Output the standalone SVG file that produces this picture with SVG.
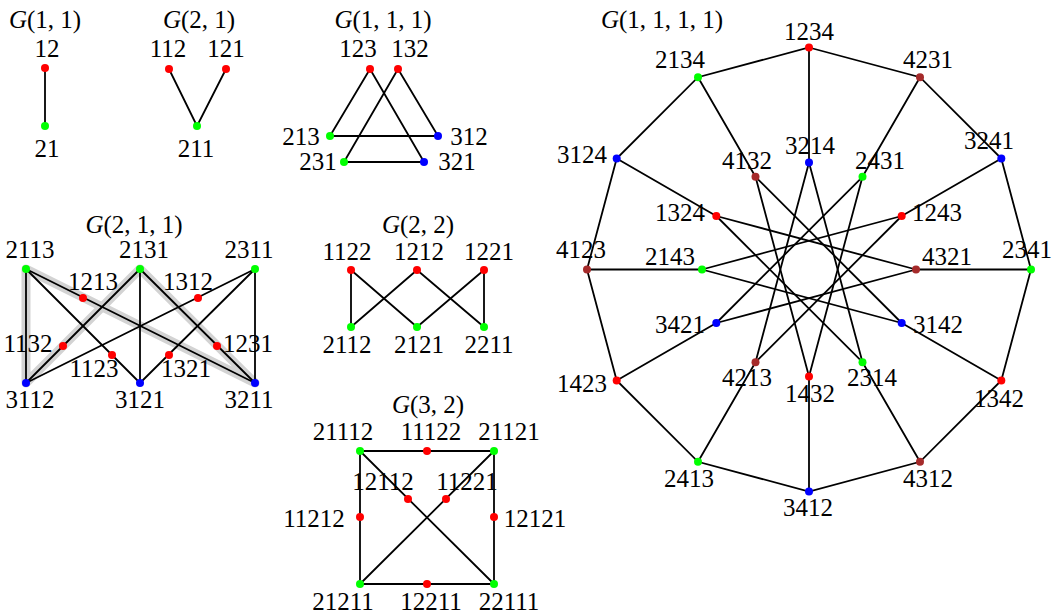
<svg xmlns="http://www.w3.org/2000/svg" width="1059" height="615" viewBox="0 0 1059 615">
<style>
.e{stroke:#000;stroke-width:1.8;fill:none;stroke-linecap:round}
.hl{stroke:#d3d3d3;stroke-width:9;fill:none;stroke-linejoin:round;stroke-linecap:round}
.r{fill:#ff0000}.g{fill:#00ff00}.b{fill:#0000ff}.k{fill:#a52a2a}
text{font-family:"Liberation Serif","DejaVu Serif",serif;font-size:25px;text-anchor:middle;fill:#000}
.it{font-style:italic}
</style>
<rect width="1059" height="615" fill="#fff"/>
<!-- titles -->
<g id="titles">
<text x="45" y="28"><tspan class="it">G</tspan>(1, 1)</text>
<text x="199" y="28"><tspan class="it">G</tspan>(2, 1)</text>
<text x="383" y="28"><tspan class="it">G</tspan>(1, 1, 1)</text>
<text x="134" y="233"><tspan class="it">G</tspan>(2, 1, 1)</text>
<text x="418" y="233"><tspan class="it">G</tspan>(2, 2)</text>
<text x="428" y="413"><tspan class="it">G</tspan>(3, 2)</text>
<text x="662" y="28"><tspan class="it">G</tspan>(1, 1, 1, 1)</text>
</g>
<!-- highlight -->
<path class="hl" d="M26,383 L26,269 L255,383 L140,269 Z"/>
<g id="connectors">
<!-- G(1,1) -->
<line class="e" x1="45" y1="68" x2="45" y2="126"/>
<!-- G(2,1) -->
<line class="e" x1="169" y1="69" x2="197" y2="126"/>
<line class="e" x1="226" y1="69" x2="197" y2="126"/>
<!-- G(1,1,1) -->
<line class="e" x1="370" y1="69" x2="330" y2="136"/>
<line class="e" x1="370" y1="69" x2="424" y2="162"/>
<line class="e" x1="398" y1="69" x2="344" y2="162"/>
<line class="e" x1="398" y1="69" x2="438" y2="136"/>
<line class="e" x1="330" y1="136" x2="438" y2="136"/>
<line class="e" x1="344" y1="162" x2="424" y2="162"/>
<!-- G(2,1,1) -->
<line class="e" x1="26" y1="269" x2="26" y2="383"/>
<line class="e" x1="26" y1="269" x2="255" y2="383"/>
<line class="e" x1="26" y1="269" x2="140" y2="383"/>
<line class="e" x1="140" y1="269" x2="26" y2="383"/>
<line class="e" x1="140" y1="269" x2="140" y2="383"/>
<line class="e" x1="140" y1="269" x2="255" y2="383"/>
<line class="e" x1="255" y1="269" x2="26" y2="383"/>
<line class="e" x1="255" y1="269" x2="140" y2="383"/>
<line class="e" x1="255" y1="269" x2="255" y2="383"/>
<!-- G(2,2) -->
<line class="e" x1="351" y1="270" x2="351" y2="327"/>
<line class="e" x1="351" y1="270" x2="417" y2="327"/>
<line class="e" x1="417" y1="270" x2="351" y2="327"/>
<line class="e" x1="417" y1="270" x2="484" y2="327"/>
<line class="e" x1="484" y1="270" x2="417" y2="327"/>
<line class="e" x1="484" y1="270" x2="484" y2="327"/>
<!-- G(3,2) -->
<line class="e" x1="360" y1="451" x2="494" y2="451"/>
<line class="e" x1="360" y1="451" x2="360" y2="584"/>
<line class="e" x1="494" y1="451" x2="494" y2="584"/>
<line class="e" x1="360" y1="584" x2="494" y2="584"/>
<line class="e" x1="360" y1="451" x2="494" y2="584"/>
<line class="e" x1="494" y1="451" x2="360" y2="584"/>
<!-- G(1,1,1,1) outer ring -->
<polygon class="e" points="809,47.5 920,77.2 1001.3,158.5 1031,269.5 1001.3,380.5 920,461.8 809,491.5 698,461.8 616.7,380.5 587,269.5 616.7,158.5 698,77.2"/>
<!-- spokes -->
<line class="e" x1="809" y1="47.5" x2="809" y2="162.5"/>
<line class="e" x1="920" y1="77.2" x2="862.5" y2="176.8"/>
<line class="e" x1="1001.3" y1="158.5" x2="901.7" y2="216"/>
<line class="e" x1="1031" y1="269.5" x2="916" y2="269.5"/>
<line class="e" x1="1001.3" y1="380.5" x2="901.7" y2="323"/>
<line class="e" x1="920" y1="461.8" x2="862.5" y2="362.2"/>
<line class="e" x1="809" y1="491.5" x2="809" y2="376.5"/>
<line class="e" x1="698" y1="461.8" x2="755.5" y2="362.2"/>
<line class="e" x1="616.7" y1="380.5" x2="716.3" y2="323"/>
<line class="e" x1="587" y1="269.5" x2="702" y2="269.5"/>
<line class="e" x1="616.7" y1="158.5" x2="716.3" y2="216"/>
<line class="e" x1="698" y1="77.2" x2="755.5" y2="176.8"/>
<!-- inner star {12/5} -->
<line class="e" x1="809" y1="162.5" x2="862.5" y2="362.2"/>
<line class="e" x1="862.5" y1="176.8" x2="809" y2="376.5"/>
<line class="e" x1="901.7" y1="216" x2="755.5" y2="362.2"/>
<line class="e" x1="916" y1="269.5" x2="716.3" y2="323"/>
<line class="e" x1="901.7" y1="323" x2="702" y2="269.5"/>
<line class="e" x1="862.5" y1="362.2" x2="716.3" y2="216"/>
<line class="e" x1="809" y1="376.5" x2="755.5" y2="176.8"/>
<line class="e" x1="755.5" y1="362.2" x2="809" y2="162.5"/>
<line class="e" x1="716.3" y1="323" x2="862.5" y2="176.8"/>
<line class="e" x1="702" y1="269.5" x2="901.7" y2="216"/>
<line class="e" x1="716.3" y1="216" x2="916" y2="269.5"/>
<line class="e" x1="755.5" y1="176.8" x2="901.7" y2="323"/>
</g>
<!-- G(1,1) nodes -->
<g id="n11-12"><circle class="r" cx="45" cy="68" r="4"/><text x="47" y="57">12</text></g>
<g id="n11-21"><circle class="g" cx="45" cy="126" r="4"/><text x="47" y="157">21</text></g>
<!-- G(2,1) -->
<g id="n21-112"><circle class="r" cx="169" cy="69" r="4"/><text x="168" y="57">112</text></g>
<g id="n21-121"><circle class="r" cx="226" cy="69" r="4"/><text x="226" y="57">121</text></g>
<g id="n21-211"><circle class="g" cx="197" cy="126" r="4"/><text x="196" y="157">211</text></g>
<!-- G(1,1,1) -->
<g id="n111-123"><circle class="r" cx="370" cy="69" r="4"/><text x="358" y="57">123</text></g>
<g id="n111-132"><circle class="r" cx="398" cy="69" r="4"/><text x="410" y="57">132</text></g>
<g id="n111-213"><circle class="g" cx="330" cy="136" r="4"/><text x="301" y="145">213</text></g>
<g id="n111-312"><circle class="b" cx="438" cy="136" r="4"/><text x="469" y="145">312</text></g>
<g id="n111-231"><circle class="g" cx="344" cy="162" r="4"/><text x="318" y="170">231</text></g>
<g id="n111-321"><circle class="b" cx="424" cy="162" r="4"/><text x="457" y="170">321</text></g>
<!-- G(2,1,1) -->
<g id="n211-2113"><circle class="g" cx="26" cy="269" r="4"/><text x="30" y="258">2113</text></g>
<g id="n211-2131"><circle class="g" cx="140" cy="269" r="4"/><text x="144" y="258">2131</text></g>
<g id="n211-2311"><circle class="g" cx="255" cy="269" r="4"/><text x="249" y="258">2311</text></g>
<g id="n211-1213"><circle class="r" cx="83" cy="298" r="4"/><text x="93" y="290">1213</text></g>
<g id="n211-1312"><circle class="r" cx="198" cy="298" r="4"/><text x="188" y="290">1312</text></g>
<g id="n211-1132"><circle class="r" cx="63" cy="346" r="4"/><text x="28" y="352">1132</text></g>
<g id="n211-1231"><circle class="r" cx="217" cy="346" r="4"/><text x="248" y="352">1231</text></g>
<g id="n211-1123"><circle class="r" cx="112" cy="355" r="4"/><text x="94" y="377">1123</text></g>
<g id="n211-1321"><circle class="r" cx="169" cy="355" r="4"/><text x="186" y="377">1321</text></g>
<g id="n211-3112"><circle class="b" cx="26" cy="383" r="4"/><text x="30" y="408">3112</text></g>
<g id="n211-3121"><circle class="b" cx="140" cy="383" r="4"/><text x="140" y="408">3121</text></g>
<g id="n211-3211"><circle class="b" cx="255" cy="383" r="4"/><text x="249" y="408">3211</text></g>
<!-- G(2,2) -->
<g id="n22-1122"><circle class="r" cx="351" cy="270" r="4"/><text x="347" y="260">1122</text></g>
<g id="n22-1212"><circle class="r" cx="417" cy="270" r="4"/><text x="419" y="260">1212</text></g>
<g id="n22-1221"><circle class="r" cx="484" cy="270" r="4"/><text x="489" y="260">1221</text></g>
<g id="n22-2112"><circle class="g" cx="351" cy="327" r="4"/><text x="347" y="353">2112</text></g>
<g id="n22-2121"><circle class="g" cx="417" cy="327" r="4"/><text x="419" y="353">2121</text></g>
<g id="n22-2211"><circle class="g" cx="484" cy="327" r="4"/><text x="489" y="353">2211</text></g>
<!-- G(3,2) -->
<g id="n32-21112"><circle class="g" cx="360" cy="451" r="4"/><text x="343" y="440">21112</text></g>
<g id="n32-11122"><circle class="r" cx="427" cy="451" r="4"/><text x="431" y="440">11122</text></g>
<g id="n32-21121"><circle class="g" cx="494" cy="451" r="4"/><text x="509" y="440">21121</text></g>
<g id="n32-12112"><circle class="r" cx="408" cy="499" r="4"/><text x="383" y="490">12112</text></g>
<g id="n32-11221"><circle class="r" cx="446" cy="499" r="4"/><text x="467" y="490">11221</text></g>
<g id="n32-11212"><circle class="r" cx="360" cy="517" r="4"/><text x="314" y="527">11212</text></g>
<g id="n32-12121"><circle class="r" cx="494" cy="517" r="4"/><text x="535" y="527">12121</text></g>
<g id="n32-21211"><circle class="g" cx="360" cy="584" r="4"/><text x="343" y="610">21211</text></g>
<g id="n32-12211"><circle class="r" cx="427" cy="584" r="4"/><text x="431" y="610">12211</text></g>
<g id="n32-22111"><circle class="g" cx="494" cy="584" r="4"/><text x="509" y="610">22111</text></g>
<!-- G(1,1,1,1) outer -->
<g id="n1111-1234"><circle class="r" cx="809" cy="47.5" r="4"/><text x="809" y="40">1234</text></g>
<g id="n1111-4231"><circle class="k" cx="920" cy="77.2" r="4"/><text x="928" y="68">4231</text></g>
<g id="n1111-3241"><circle class="b" cx="1001.3" cy="158.5" r="4"/><text x="989" y="149">3241</text></g>
<g id="n1111-2341"><circle class="g" cx="1031" cy="269.5" r="4"/><text x="1027" y="258">2341</text></g>
<g id="n1111-1342"><circle class="r" cx="1001.3" cy="380.5" r="4"/><text x="999" y="407">1342</text></g>
<g id="n1111-4312"><circle class="k" cx="920" cy="461.8" r="4"/><text x="928" y="487">4312</text></g>
<g id="n1111-3412"><circle class="b" cx="809" cy="491.5" r="4"/><text x="808" y="516">3412</text></g>
<g id="n1111-2413"><circle class="g" cx="698" cy="461.8" r="4"/><text x="689" y="487">2413</text></g>
<g id="n1111-1423"><circle class="r" cx="616.7" cy="380.5" r="4"/><text x="582" y="392">1423</text></g>
<g id="n1111-4123"><circle class="k" cx="587" cy="269.5" r="4"/><text x="581" y="258">4123</text></g>
<g id="n1111-3124"><circle class="b" cx="616.7" cy="158.5" r="4"/><text x="582" y="163">3124</text></g>
<g id="n1111-2134"><circle class="g" cx="698" cy="77.2" r="4"/><text x="680" y="68">2134</text></g>
<!-- inner -->
<g id="n1111-3214"><circle class="b" cx="809" cy="162.5" r="4"/><text x="810" y="154">3214</text></g>
<g id="n1111-2431"><circle class="g" cx="862.5" cy="176.8" r="4"/><text x="880" y="169">2431</text></g>
<g id="n1111-1243"><circle class="r" cx="901.7" cy="216" r="4"/><text x="937" y="221">1243</text></g>
<g id="n1111-4321"><circle class="k" cx="916" cy="269.5" r="4"/><text x="947" y="265">4321</text></g>
<g id="n1111-3142"><circle class="b" cx="901.7" cy="323" r="4"/><text x="938" y="333">3142</text></g>
<g id="n1111-2314"><circle class="g" cx="862.5" cy="362.2" r="4"/><text x="872" y="386">2314</text></g>
<g id="n1111-1432"><circle class="r" cx="809" cy="376.5" r="4"/><text x="810" y="402">1432</text></g>
<g id="n1111-4213"><circle class="k" cx="755.5" cy="362.2" r="4"/><text x="747" y="386">4213</text></g>
<g id="n1111-3421"><circle class="b" cx="716.3" cy="323" r="4"/><text x="680" y="333">3421</text></g>
<g id="n1111-2143"><circle class="g" cx="702" cy="269.5" r="4"/><text x="670" y="265">2143</text></g>
<g id="n1111-1324"><circle class="r" cx="716.3" cy="216" r="4"/><text x="680" y="221">1324</text></g>
<g id="n1111-4132"><circle class="k" cx="755.5" cy="176.8" r="4"/><text x="747" y="169">4132</text></g>
</svg>
